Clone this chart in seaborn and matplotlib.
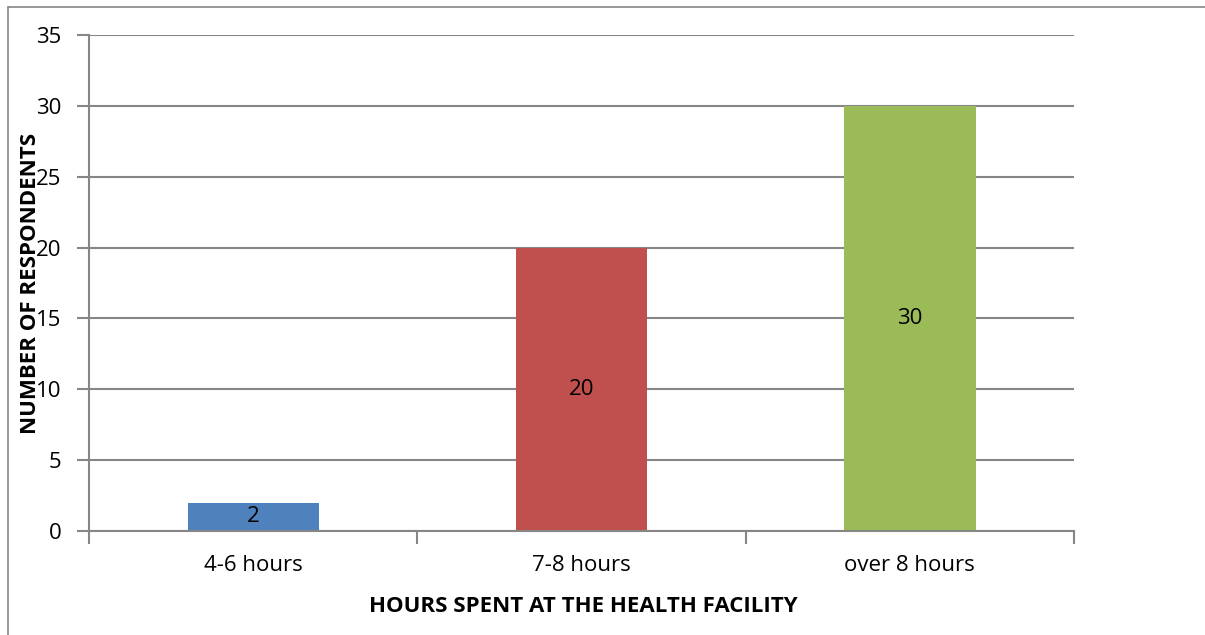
import matplotlib
matplotlib.use("Agg")
import matplotlib.pyplot as plt
import seaborn as sns
import pandas as pd
from matplotlib.lines import Line2D

categories = ["4-6 hours", "7-8 hours", "over 8 hours"]
values = [2, 20, 30]
colors = ["#4F81BD", "#C0504D", "#9BBB59"]
yticks = [0, 5, 10, 15, 20, 25, 30, 35]

sns.set_theme(style="white")
plt.rcParams['font.family'] = ['Open Sans', 'DejaVu Sans']
plt.rcParams['text.color'] = 'black'

df = pd.DataFrame({"cat": categories, "val": values})

fig = plt.figure(figsize=(12.05, 6.35), dpi=100)
ax = fig.add_axes([89/1205, 1-531/635, (1074-89)/1205, (531-35)/635])

sns.barplot(data=df, x="cat", y="val", hue="cat", palette=colors, width=0.4,
            legend=False, ax=ax, saturation=1, linewidth=0)

ax.set_ylim(0, 35)
ax.set_xlim(-0.5, 2.5)
ax.set_yticks(yticks)
ax.set_yticklabels([str(t) for t in yticks], fontsize=16, color="black")
ax.yaxis.grid(True, color="#868686", linewidth=1.5)
ax.set_axisbelow(True)
for s in ["top", "right"]:
    ax.spines[s].set_visible(False)
for s in ["left", "bottom"]:
    ax.spines[s].set_color("#868686")
    ax.spines[s].set_linewidth(1.5)

ax.tick_params(axis="y", which="both", length=9, width=1.5, color="#868686", direction="out", pad=11, left=True)
ax.set_xticks([0, 1, 2])
ax.set_xticklabels(categories, fontsize=16, color="black")
ax.tick_params(axis="x", which="major", length=0, pad=17)
ax.set_xticks([-0.5, 0.5, 1.5, 2.5], minor=True)
ax.tick_params(axis="x", which="minor", length=9, width=1.5, color="#868686", direction="out", bottom=True)

for i, v in enumerate(values):
    ax.text(i, v / 2, str(v), ha="center", va="center", fontsize=16, color="black")

ax.set_xlabel("")
ax.set_ylabel("")
fig.text(31/1205, 1-283/635, "NUMBER OF RESPONDENTS", rotation=90, ha="center", va="center",
         fontsize=16, fontweight="bold", color="black")
fig.text(583/1205, 1-606/635, "HOURS SPENT AT THE HEALTH FACILITY", ha="center", va="center",
         fontsize=16, fontweight="bold", color="black")

# outer chart border (top and left visible)
fig.add_artist(Line2D([8/1205, 8/1205], [0, 1-7/635], transform=fig.transFigure, color="#868686", linewidth=1.2))
fig.add_artist(Line2D([8/1205, 1], [1-7/635, 1-7/635], transform=fig.transFigure, color="#868686", linewidth=1.2))

fig.savefig("out.png", dpi=100)
